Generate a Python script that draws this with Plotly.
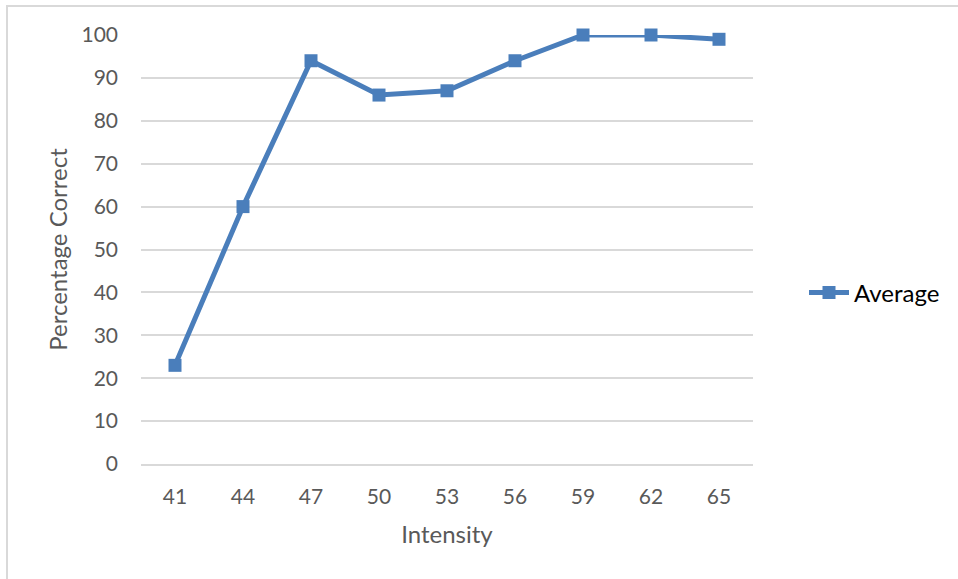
import plotly.graph_objects as go

# Intensity levels and mean percentage of correct responses
intensity = ["41", "44", "47", "50", "53", "56", "59", "62", "65"]
average = [23, 60, 94, 86, 87, 94, 100, 100, 99]
y_ticks = [0, 10, 20, 30, 40, 50, 60, 70, 80, 90, 100]

W, H = 958, 579
L, R, T, B = 141, 205, 35, 115
pw, ph = W - L - R, H - T - B

def px_x(x):
    return (x - L) / pw

def px_y(y):
    return (H - B - y) / ph

FONT = "Lato, Open Sans, sans-serif"
BLUE = "#4A7EBB"
GRID = "#D9D9D9"
TXT = "#595959"

fig = go.Figure()
fig.add_trace(go.Scatter(
    x=intensity, y=average, name="Average", mode="lines+markers",
    line=dict(color=BLUE, width=5),
    marker=dict(symbol="square", size=13, color=BLUE),
    cliponaxis=False,
))

fig.update_layout(
    width=W, height=H,
    margin=dict(l=L, r=R, t=T, b=B),
    plot_bgcolor="white", paper_bgcolor="white",
    font=dict(family=FONT, size=21, color=TXT),
    showlegend=True,
    legend=dict(x=px_x(804), y=px_y(293), xanchor="left", yanchor="middle",
                font=dict(family=FONT, size=24, color="#000000"),
                itemwidth=40,
                bgcolor="rgba(0,0,0,0)"),
    xaxis=dict(type="category", range=[-0.5, len(intensity) - 0.5],
               showgrid=False, showline=True, linecolor=GRID, linewidth=1.5,
               ticks="", ticklabelstandoff=13, tickfont=dict(size=21, color=TXT),
               title=dict(text="Intensity", font=dict(size=24, color=TXT), standoff=19)),
    yaxis=dict(range=[0, 100], tickvals=y_ticks, showgrid=True, gridcolor=GRID,
               gridwidth=1.5, zeroline=False, showline=False, ticks="",
               ticklabelstandoff=22,
               tickfont=dict(size=21, color=TXT),
               title=dict(text="Percentage Correct", font=dict(size=24, color=TXT), standoff=7)),
    shapes=[dict(type="rect", xref="paper", yref="paper",
                 x0=px_x(7), x1=px_x(980), y0=px_y(600), y1=px_y(6),
                 line=dict(color=GRID, width=2), fillcolor="rgba(0,0,0,0)", layer="below")],
)

fig.write_html("out.html")
